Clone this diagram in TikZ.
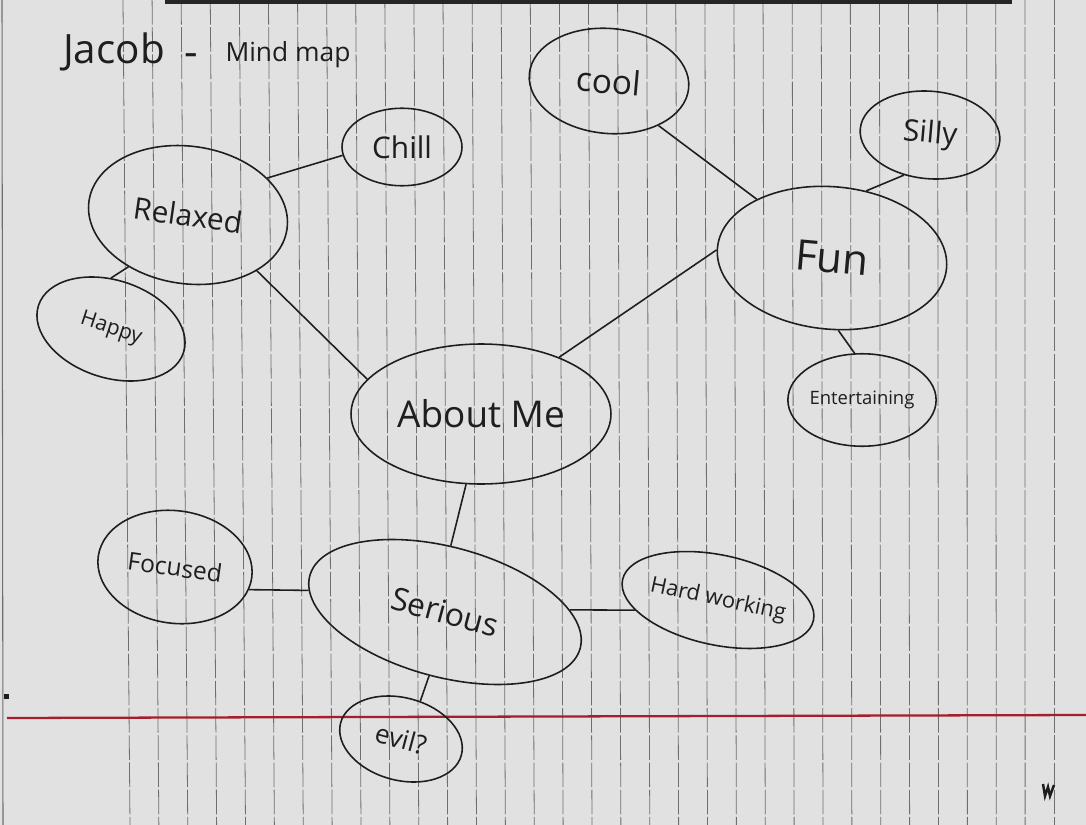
\documentclass[tikz,border=0pt]{standalone}
\usepackage{fontspec}
\setmainfont{Open Sans}
\usetikzlibrary{shapes.geometric}
\definecolor{paper}{HTML}{E1E1E1}
\definecolor{ink}{HTML}{1E1E1E}
\definecolor{rule}{HTML}{6E6E6E}
\definecolor{margin}{RGB}{165,30,45}
\tikzset{
  bubble/.style={ellipse, draw=ink, line width=0.9pt, inner sep=0pt, text=ink},
  conn/.style={draw=ink, line width=0.9pt},
  paperline/.style={draw=rule, line width=0.45pt, dash pattern=on 14pt off 1.5pt},
  hand/.style={text=ink, inner sep=0pt}
}
\newcommand{\fs}[1]{\fontsize{#1}{#1}\selectfont}
\begin{document}
\begin{tikzpicture}[x=0.02cm, y=-0.02cm]
\useasboundingbox (0,0) rectangle (1086,825);
\fill[paper] (0,0) rectangle (1086,825);
% ruled paper
\foreach \k in {0,...,32}{
  \pgfmathsetmacro\xb{130+28.875*\k}
  \pgfmathsetmacro\xt{\xb-7*(32-\k)/32}
  \draw[paperline] (\xt,0) -- (\xb,825);
}
\draw[draw=rule, line width=0.6pt] (2,0) -- (3,825);
\fill[black!85] (165,0) rectangle (1012,4);
\draw[margin, line width=1.3pt] (7,718) -- (1086,715);
\fill[ink] (4,694) rectangle (9,699);
\draw[ink, line width=1.4pt] (1043,784) -- (1045,796) -- (1048,787) -- (1050,796) -- (1054,785);
% title
\node[hand, font=\fs{23}] (jacob) at (114,52) {Jacob};
\node[hand, font=\fs{24}] (dash) at (191,60) {-};
\node[hand, font=\fs{15}] (mindmap) at (288,55) {Mind map};
% bubbles
\node[bubble, minimum width=4cm, minimum height=2.75cm, rotate=-8, font=\fs{17}] (relaxed) at (188,215) {Relaxed};
\node[bubble, minimum width=2.4cm, minimum height=1.55cm, font=\fs{17}] (chill) at (402,147) {Chill};
\node[bubble, minimum width=3.05cm, minimum height=1.95cm, rotate=-18, font=\fs{12}] (happy) at (111,329) {Happy};
\node[bubble, minimum width=3.2cm, minimum height=2.1cm, rotate=-5, font=\fs{19}] (cool) at (609,81) {cool};
\node[bubble, minimum width=2.8cm, minimum height=1.75cm, rotate=-5, font=\fs{17}] (silly) at (930,135) {Silly};
\node[bubble, minimum width=4.6cm, minimum height=2.85cm, rotate=-5, font=\fs{24}] (fun) at (832,258) {Fun};
\node[bubble, minimum width=2.5cm, minimum height=1.85cm, font=\fs{10.5}] (ent) at (862,400) {Entertaining};
\node[bubble, minimum width=5.2cm, minimum height=2.8cm, font=\fs{21}] (about) at (481,414) {About Me};
\node[bubble, minimum width=3.1cm, minimum height=2.25cm, rotate=-8, font=\fs{14}] (focused) at (175,567) {Focused};
\node[bubble, minimum width=5.6cm, minimum height=2.6cm, rotate=-15, font=\fs{18}] (serious) at (445,612) {Serious};
\node[bubble, minimum width=3.5cm, minimum height=1.8cm, rotate=-12, font=\fs{12.5}] (hard) at (718,600) {Hard working};
\node[bubble, minimum width=2.5cm, minimum height=1.65cm, rotate=-15, font=\fs{15}] (evil) at (401,739) {evil?};
% connectors
\draw[conn] (relaxed.33) -- (chill.188);
\draw[conn] (relaxed.-31) -- (about.163);
\draw[conn] (relaxed.229) -- (happy.108);
\draw[conn] (cool.-37) -- (fun.147);
\draw[conn] (silly.242) -- (fun.68);
\draw[conn] (fun.181) -- (about.36);
\draw[conn] (fun.-80) -- (ent.99);
\draw[conn] (about.-102) -- (serious.100);
\draw[conn] (focused.-9) -- (serious.186);
\draw[conn] (serious.16) -- (hard.199);
\draw[conn] (serious.-89) -- (evil.78);
\end{tikzpicture}
\end{document}
